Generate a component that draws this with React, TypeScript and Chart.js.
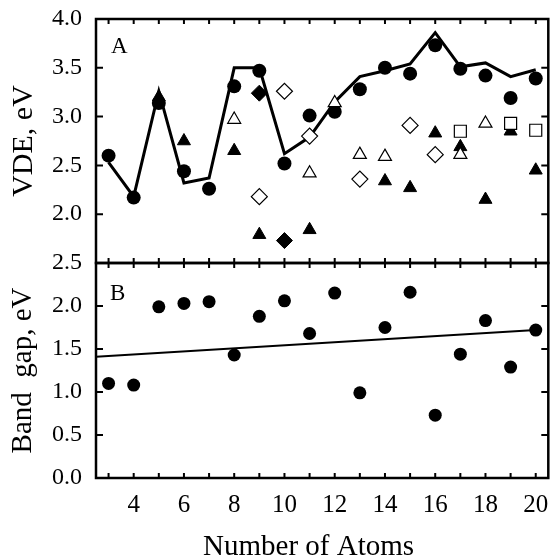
import { useEffect, useRef } from 'react';
import { Chart, registerables } from 'chart.js';

Chart.register(...registerables);

const atoms = [3, 4, 5, 6, 7, 8, 9, 10, 11, 12, 13, 14, 15, 16, 17, 18, 19, 20];
const evenLabels = [4, 6, 8, 10, 12, 14, 16, 18, 20];
const vdeExp = [2.6, 2.17, 3.14, 2.44, 2.26, 3.31, 3.47, 2.52, 3.01, 3.05, 3.28, 3.5, 3.44, 3.73, 3.49, 3.42, 3.19, 3.39];
const vdeTheory = [2.53, 2.18, 3.26, 2.32, 2.37, 3.5, 3.5, 2.62, 2.79, 3.15, 3.41, 3.47, 3.54, 3.86, 3.51, 3.55, 3.41, 3.48];
const filledTri = [null, null, 3.2, 2.75, null, 2.65, 1.79, null, 1.84, null, null, 2.34, 2.27, 2.83, 2.69, 2.15, 2.85, 2.45];
const filledDia = [null, null, null, null, null, null, 3.24, 1.73, null, null, null, null, null, null, null, null, null, null];
const openTri = [null, null, null, null, null, 2.97, null, null, 2.42, 3.14, 2.61, 2.59, null, null, 2.61, 2.93, null, null];
const openDia = [null, null, null, null, null, null, 2.18, 3.26, 2.8, null, 2.36, null, 2.91, 2.61, null, null, null, null];
const openSq = [null, null, null, null, null, null, null, null, null, null, null, null, null, null, 2.85, null, 2.93, 2.86];
const bandGap = [1.1, 1.08, 1.99, 2.03, 2.05, 1.43, 1.88, 2.06, 1.68, 2.15, 0.99, 1.75, 2.16, 0.73, 1.44, 1.83, 1.29, 1.72];
const fitX = [2.5, 20];
const fitY = [1.41, 1.72];

const FONT = '"Liberation Serif", "Times New Roman", serif';

function pts(xs: number[], ys: (number | null)[]) {
  const out: { x: number; y: number }[] = [];
  xs.forEach((x, i) => {
    const y = ys[i];
    if (y !== null && y !== undefined) out.push({ x, y });
  });
  return out;
}

const framePlugin = {
  id: 'frame',
  afterDatasetsDraw(chart: any) {
    const { ctx, scales } = chart;
    const x = scales.x;
    ctx.save();
    ctx.strokeStyle = '#000';
    ctx.lineCap = 'butt';
    for (const id of ['yA', 'yB']) {
      const y = scales[id];
      const top = y.top;
      const bottom = y.bottom;
      const left = x.left;
      const right = x.right;
      ctx.lineWidth = 2;
      ctx.beginPath();
      for (const v of atoms) {
        const px = x.getPixelForValue(v);
        ctx.moveTo(px, top);
        ctx.lineTo(px, top + 5);
        ctx.moveTo(px, bottom);
        ctx.lineTo(px, bottom - 5);
      }
      for (const t of y.ticks) {
        const py = y.getPixelForValue(t.value);
        ctx.moveTo(left, py);
        ctx.lineTo(left + 7, py);
        ctx.moveTo(right, py);
        ctx.lineTo(right - 7, py);
      }
      ctx.stroke();
      ctx.lineWidth = 2.5;
      ctx.strokeRect(left, top, right - left, bottom - top);
    }
    ctx.fillStyle = '#000';
    ctx.font = '23px ' + FONT;
    ctx.textAlign = 'left';
    ctx.textBaseline = 'alphabetic';
    ctx.fillText('A', x.left + 15, scales.yA.top + 34);
    ctx.fillText('B', x.left + 14, scales.yB.top + 37);
    ctx.font = '29px ' + FONT;
    ctx.textAlign = 'center';
    ctx.fillText('Number of Atoms', x.left + (x.right - x.left) * 0.47, chart.height - 3);
    ctx.restore();
  },
};

export default function App() {
  const ref = useRef<HTMLCanvasElement | null>(null);
  useEffect(() => {
    if (!ref.current) return;
    const yTickFont = { family: FONT, size: 24 };
    const xTickFont = { family: FONT, size: 25 };
    const chart = new Chart(ref.current, {
      type: 'scatter',
      data: {
        datasets: [
          {
            data: pts(atoms, openSq),
            yAxisID: 'yA',
            pointStyle: 'rect',
            pointRadius: 8.5,
            backgroundColor: '#fff',
            borderColor: '#000',
            borderWidth: 1.2,
          },
          {
            data: pts(atoms, openDia),
            yAxisID: 'yA',
            pointStyle: 'rectRot',
            pointRadius: 8,
            backgroundColor: '#fff',
            borderColor: '#000',
            borderWidth: 1.2,
          },
          {
            data: pts(atoms, openTri),
            yAxisID: 'yA',
            pointStyle: 'triangle',
            pointRadius: 7.5,
            backgroundColor: '#fff',
            borderColor: '#000',
            borderWidth: 1.2,
          },
          {
            data: pts(atoms, filledDia),
            yAxisID: 'yA',
            pointStyle: 'rectRot',
            pointRadius: 8,
            backgroundColor: '#000',
            borderColor: '#000',
            borderWidth: 1,
          },
          {
            data: pts(atoms, filledTri),
            yAxisID: 'yA',
            pointStyle: 'triangle',
            pointRadius: 7.5,
            backgroundColor: '#000',
            borderColor: '#000',
            borderWidth: 1,
          },
          {
            data: pts(atoms, vdeExp),
            yAxisID: 'yA',
            pointStyle: 'circle',
            pointRadius: 7,
            backgroundColor: '#000',
            borderColor: '#000',
            borderWidth: 0,
          },
          {
            data: pts(atoms, vdeTheory),
            yAxisID: 'yA',
            showLine: true,
            pointRadius: 0,
            borderColor: '#000',
            borderWidth: 3,
            fill: false,
          },
          {
            data: pts(atoms, bandGap),
            yAxisID: 'yB',
            pointStyle: 'circle',
            pointRadius: 6.5,
            backgroundColor: '#000',
            borderColor: '#000',
            borderWidth: 0,
          },
          {
            data: pts(fitX, fitY),
            yAxisID: 'yB',
            showLine: true,
            pointRadius: 0,
            borderColor: '#000',
            borderWidth: 2,
            fill: false,
          },
        ],
      },
      options: {
        responsive: false,
        animation: false,
        maintainAspectRatio: false,
        layout: { padding: { top: 19, right: 3, left: 0, bottom: 0 } },
        plugins: {
          legend: { display: false },
          tooltip: { enabled: false },
        },
        scales: {
          x: {
            type: 'linear',
            min: 2.5,
            max: 20.5,
            afterBuildTicks: (axis: any) => {
              axis.ticks = atoms.map((v) => ({ value: v }));
            },
            afterFit: (s: any) => {
              s.height = 80;
              s.paddingLeft = 0;
              s.paddingRight = 0;
            },
            grid: { display: false, drawTicks: true, tickLength: 12 },
            border: { display: false },
            ticks: {
              autoSkip: false,
              maxRotation: 0,
              padding: 0,
              color: '#000',
              font: xTickFont,
              callback: (v: any) => (evenLabels.includes(Number(v)) ? String(v) : ''),
            },
            title: { display: false },
          },
          yB: {
            type: 'linear',
            position: 'left',
            stack: 'panels',
            stackWeight: 215,
            min: 0,
            max: 2.5,
            afterFit: (s: any) => {
              s.width = 96;
            },
            grid: { display: false, drawTicks: true, tickLength: 14 },
            border: { display: false },
            ticks: {
              stepSize: 0.5,
              autoSkip: false,
              padding: 0,
              color: '#000',
              font: yTickFont,
              callback: (v: any) => Number(v).toFixed(1),
            },
            title: {
              display: true,
              text: 'Band  gap, eV',
              color: '#000',
              font: { family: FONT, size: 29 },
              padding: { top: 6, bottom: 0 },
            },
          },
          yA: {
            type: 'linear',
            position: 'left',
            stack: 'panels',
            stackWeight: 244,
            min: 1.5,
            max: 4.0,
            afterFit: (s: any) => {
              s.width = 96;
            },
            grid: { display: false, drawTicks: true, tickLength: 14 },
            border: { display: false },
            ticks: {
              stepSize: 0.5,
              autoSkip: false,
              padding: 0,
              color: '#000',
              font: yTickFont,
              callback: (v: any) => (Number(v) === 1.5 ? '' : Number(v).toFixed(1)),
            },
            title: {
              display: true,
              text: 'VDE, eV',
              color: '#000',
              font: { family: FONT, size: 30 },
              padding: { top: 6, bottom: 0 },
            },
          },
        },
      },
      plugins: [framePlugin],
    } as any);
    return () => chart.destroy();
  }, []);
  return (
    <div style={{ position: 'absolute', left: 0, top: 0, width: 558, height: 558, background: '#fff' }}>
      <canvas ref={ref} width={558} height={558} style={{ width: 558, height: 558, display: 'block' }} />
    </div>
  );
}
